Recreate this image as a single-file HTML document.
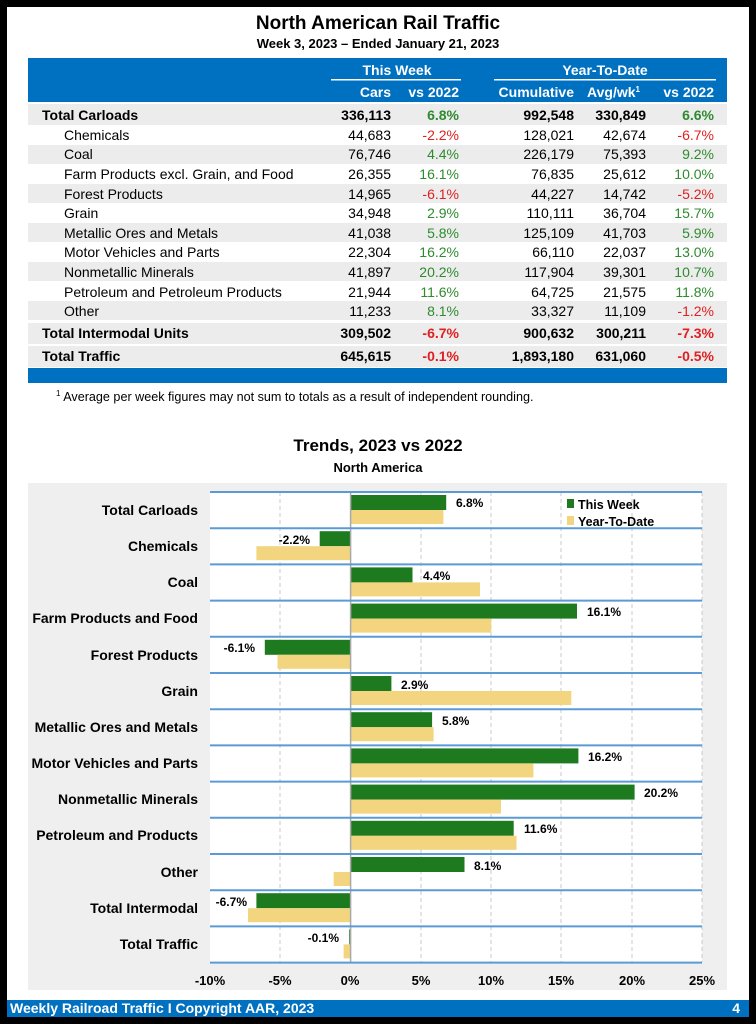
<!DOCTYPE html>
<html><head><meta charset="utf-8"><style>
html,body{margin:0;padding:0;background:#000;}
svg{display:block;font-family:"Liberation Sans",Arial,sans-serif;}
</style></head><body>
<svg width="756" height="1024" viewBox="0 0 756 1024" xmlns="http://www.w3.org/2000/svg">
<rect x="0" y="0" width="756" height="1024" fill="#000"/>
<rect x="7" y="7" width="742" height="1010" fill="#fff"/>
<text x="378" y="29" text-anchor="middle" font-size="19" font-weight="bold">North American Rail Traffic</text>
<text x="378" y="48" text-anchor="middle" font-size="13" font-weight="bold">Week 3, 2023 – Ended January 21, 2023</text>
<rect x="28" y="58" width="699" height="44" fill="#0070c0"/>
<g fill="#fff" font-weight="bold" font-size="14">
<text x="397" y="75" text-anchor="middle">This Week</text>
<text x="605" y="75" text-anchor="middle">Year-To-Date</text>
<text x="391" y="97" text-anchor="end">Cars</text>
<text x="459" y="97" text-anchor="end">vs 2022</text>
<text x="574" y="97" text-anchor="end">Cumulative</text>
<text x="640" y="97" text-anchor="end">Avg/wk<tspan font-size="8" dy="-5">1</tspan></text>
<text x="714" y="97" text-anchor="end">vs 2022</text>
</g>
<rect x="331" y="79" width="130" height="1.5" fill="#fff"/>
<rect x="494" y="79" width="222" height="1.5" fill="#fff"/>
<g font-size="14">
<rect x="28" y="104" width="699" height="21" fill="#ececec"/>
<rect x="28" y="145" width="699" height="19" fill="#ececec"/>
<rect x="28" y="184" width="699" height="19" fill="#ececec"/>
<rect x="28" y="223" width="699" height="19" fill="#ececec"/>
<rect x="28" y="262" width="699" height="19" fill="#ececec"/>
<rect x="28" y="301" width="699" height="19" fill="#ececec"/>
<rect x="28" y="323" width="699" height="21" fill="#ececec"/>
<rect x="28" y="346" width="699" height="21" fill="#ececec"/>
<g font-weight="bold">
<text x="42" y="120">Total Carloads</text><text x="391" y="120" text-anchor="end">336,113</text><text x="459" y="120" text-anchor="end" fill="#2e8b2e">6.8%</text><text x="574" y="120" text-anchor="end">992,548</text><text x="646" y="120" text-anchor="end">330,849</text><text x="714" y="120" text-anchor="end" fill="#2e8b2e">6.6%</text>
<text x="42" y="338">Total Intermodal Units</text><text x="391" y="338" text-anchor="end">309,502</text><text x="459" y="338" text-anchor="end" fill="#e02020">-6.7%</text><text x="574" y="338" text-anchor="end">900,632</text><text x="646" y="338" text-anchor="end">300,211</text><text x="714" y="338" text-anchor="end" fill="#e02020">-7.3%</text>
<text x="42" y="361">Total Traffic</text><text x="391" y="361" text-anchor="end">645,615</text><text x="459" y="361" text-anchor="end" fill="#e02020">-0.1%</text><text x="574" y="361" text-anchor="end">1,893,180</text><text x="646" y="361" text-anchor="end">631,060</text><text x="714" y="361" text-anchor="end" fill="#e02020">-0.5%</text>
</g>
<g>
<text x="64" y="140">Chemicals</text><text x="391" y="140" text-anchor="end">44,683</text><text x="459" y="140" text-anchor="end" fill="#e02020">-2.2%</text><text x="574" y="140" text-anchor="end">128,021</text><text x="646" y="140" text-anchor="end">42,674</text><text x="714" y="140" text-anchor="end" fill="#e02020">-6.7%</text>
<text x="64" y="159">Coal</text><text x="391" y="159" text-anchor="end">76,746</text><text x="459" y="159" text-anchor="end" fill="#2e8b2e">4.4%</text><text x="574" y="159" text-anchor="end">226,179</text><text x="646" y="159" text-anchor="end">75,393</text><text x="714" y="159" text-anchor="end" fill="#2e8b2e">9.2%</text>
<text x="64" y="179">Farm Products excl. Grain, and Food</text><text x="391" y="179" text-anchor="end">26,355</text><text x="459" y="179" text-anchor="end" fill="#2e8b2e">16.1%</text><text x="574" y="179" text-anchor="end">76,835</text><text x="646" y="179" text-anchor="end">25,612</text><text x="714" y="179" text-anchor="end" fill="#2e8b2e">10.0%</text>
<text x="64" y="199">Forest Products</text><text x="391" y="199" text-anchor="end">14,965</text><text x="459" y="199" text-anchor="end" fill="#e02020">-6.1%</text><text x="574" y="199" text-anchor="end">44,227</text><text x="646" y="199" text-anchor="end">14,742</text><text x="714" y="199" text-anchor="end" fill="#e02020">-5.2%</text>
<text x="64" y="218">Grain</text><text x="391" y="218" text-anchor="end">34,948</text><text x="459" y="218" text-anchor="end" fill="#2e8b2e">2.9%</text><text x="574" y="218" text-anchor="end">110,111</text><text x="646" y="218" text-anchor="end">36,704</text><text x="714" y="218" text-anchor="end" fill="#2e8b2e">15.7%</text>
<text x="64" y="238">Metallic Ores and Metals</text><text x="391" y="238" text-anchor="end">41,038</text><text x="459" y="238" text-anchor="end" fill="#2e8b2e">5.8%</text><text x="574" y="238" text-anchor="end">125,109</text><text x="646" y="238" text-anchor="end">41,703</text><text x="714" y="238" text-anchor="end" fill="#2e8b2e">5.9%</text>
<text x="64" y="257">Motor Vehicles and Parts</text><text x="391" y="257" text-anchor="end">22,304</text><text x="459" y="257" text-anchor="end" fill="#2e8b2e">16.2%</text><text x="574" y="257" text-anchor="end">66,110</text><text x="646" y="257" text-anchor="end">22,037</text><text x="714" y="257" text-anchor="end" fill="#2e8b2e">13.0%</text>
<text x="64" y="277">Nonmetallic Minerals</text><text x="391" y="277" text-anchor="end">41,897</text><text x="459" y="277" text-anchor="end" fill="#2e8b2e">20.2%</text><text x="574" y="277" text-anchor="end">117,904</text><text x="646" y="277" text-anchor="end">39,301</text><text x="714" y="277" text-anchor="end" fill="#2e8b2e">10.7%</text>
<text x="64" y="297">Petroleum and Petroleum Products</text><text x="391" y="297" text-anchor="end">21,944</text><text x="459" y="297" text-anchor="end" fill="#2e8b2e">11.6%</text><text x="574" y="297" text-anchor="end">64,725</text><text x="646" y="297" text-anchor="end">21,575</text><text x="714" y="297" text-anchor="end" fill="#2e8b2e">11.8%</text>
<text x="64" y="316">Other</text><text x="391" y="316" text-anchor="end">11,233</text><text x="459" y="316" text-anchor="end" fill="#2e8b2e">8.1%</text><text x="574" y="316" text-anchor="end">33,327</text><text x="646" y="316" text-anchor="end">11,109</text><text x="714" y="316" text-anchor="end" fill="#e02020">-1.2%</text>
</g>
</g>
<rect x="28" y="368" width="699" height="15" fill="#0070c0"/>
<text x="56" y="401" font-size="12.6"><tspan font-size="8" dy="-5">1</tspan><tspan dy="5"> Average per week figures may not sum to totals as a result of independent rounding.</tspan></text>

<text x="378" y="451" text-anchor="middle" font-size="17" font-weight="bold">Trends, 2023 vs 2022</text>
<text x="378" y="472" text-anchor="middle" font-size="13" font-weight="bold">North America</text>
<rect x="28" y="483" width="699" height="507" fill="#efefef"/>
<rect x="210" y="492" width="492" height="470" fill="#fff"/>
<g stroke="#c8c8c8" stroke-dasharray="4,3" stroke-width="1">
<line x1="280" y1="492" x2="280" y2="962"/><line x1="421" y1="492" x2="421" y2="962"/><line x1="491" y1="492" x2="491" y2="962"/><line x1="561" y1="492" x2="561" y2="962"/><line x1="632" y1="492" x2="632" y2="962"/><line x1="702" y1="492" x2="702" y2="962"/>
</g>
<g>
<rect x="350.6" y="495" width="95.6" height="15" fill="#1e7a1e"/><rect x="350.6" y="510" width="92.8" height="14" fill="#f2d57e"/>
<rect x="319.7" y="531.2" width="30.9" height="15" fill="#1e7a1e"/><rect x="256.4" y="546.2" width="94.2" height="14" fill="#f2d57e"/>
<rect x="350.6" y="567.4" width="61.9" height="15" fill="#1e7a1e"/><rect x="350.6" y="582.4" width="129.4" height="14" fill="#f2d57e"/>
<rect x="350.6" y="603.6" width="226.4" height="15" fill="#1e7a1e"/><rect x="350.6" y="618.6" width="140.6" height="14" fill="#f2d57e"/>
<rect x="264.8" y="639.8" width="85.8" height="15" fill="#1e7a1e"/><rect x="277.5" y="654.8" width="73.1" height="14" fill="#f2d57e"/>
<rect x="350.6" y="676" width="40.8" height="15" fill="#1e7a1e"/><rect x="350.6" y="691" width="220.7" height="14" fill="#f2d57e"/>
<rect x="350.6" y="712.2" width="81.5" height="15" fill="#1e7a1e"/><rect x="350.6" y="727.2" width="83" height="14" fill="#f2d57e"/>
<rect x="350.6" y="748.4" width="227.8" height="15" fill="#1e7a1e"/><rect x="350.6" y="763.4" width="182.8" height="14" fill="#f2d57e"/>
<rect x="350.6" y="784.6" width="284" height="15" fill="#1e7a1e"/><rect x="350.6" y="799.6" width="150.4" height="14" fill="#f2d57e"/>
<rect x="350.6" y="820.8" width="163.1" height="15" fill="#1e7a1e"/><rect x="350.6" y="835.8" width="165.9" height="14" fill="#f2d57e"/>
<rect x="350.6" y="857" width="113.9" height="15" fill="#1e7a1e"/><rect x="333.7" y="872" width="16.9" height="14" fill="#f2d57e"/>
<rect x="256.4" y="893.2" width="94.2" height="15" fill="#1e7a1e"/><rect x="248" y="908.2" width="102.6" height="14" fill="#f2d57e"/>
<rect x="349.2" y="929.4" width="1.4" height="15" fill="#1e7a1e"/><rect x="343.6" y="944.4" width="7" height="14" fill="#f2d57e"/>
</g>
<line x1="350.6" y1="492" x2="350.6" y2="962" stroke="#aaa" stroke-width="1.5"/>
<g stroke="#5b9bd5" stroke-width="2">
<line x1="210" y1="492" x2="702" y2="492"/><line x1="210" y1="528.2" x2="702" y2="528.2"/><line x1="210" y1="564.4" x2="702" y2="564.4"/><line x1="210" y1="600.6" x2="702" y2="600.6"/><line x1="210" y1="636.8" x2="702" y2="636.8"/><line x1="210" y1="673" x2="702" y2="673"/><line x1="210" y1="709.2" x2="702" y2="709.2"/><line x1="210" y1="745.4" x2="702" y2="745.4"/><line x1="210" y1="781.6" x2="702" y2="781.6"/><line x1="210" y1="817.8" x2="702" y2="817.8"/><line x1="210" y1="854" x2="702" y2="854"/><line x1="210" y1="890.2" x2="702" y2="890.2"/><line x1="210" y1="926.4" x2="702" y2="926.4"/><line x1="210" y1="962.6" x2="702" y2="962.6"/>
</g>
<g font-size="14" font-weight="bold" text-anchor="end">
<text x="198" y="515">Total Carloads</text><text x="198" y="551">Chemicals</text><text x="198" y="587">Coal</text><text x="198" y="623">Farm Products and Food</text><text x="198" y="660">Forest Products</text><text x="198" y="696">Grain</text><text x="198" y="732">Metallic Ores and Metals</text><text x="198" y="768">Motor Vehicles and Parts</text><text x="198" y="804">Nonmetallic Minerals</text><text x="198" y="840">Petroleum and Products</text><text x="198" y="877">Other</text><text x="198" y="913">Total Intermodal</text><text x="198" y="949">Total Traffic</text>
</g>
<g font-size="12" font-weight="bold">
<text x="456" y="507">6.8%</text>
<text x="310" y="544" text-anchor="end">-2.2%</text>
<text x="423" y="580">4.4%</text>
<text x="587" y="616">16.1%</text>
<text x="255" y="652" text-anchor="end">-6.1%</text>
<text x="401" y="689">2.9%</text>
<text x="442" y="725">5.8%</text>
<text x="588" y="761">16.2%</text>
<text x="644" y="797">20.2%</text>
<text x="524" y="833">11.6%</text>
<text x="474" y="870">8.1%</text>
<text x="247" y="906" text-anchor="end">-6.7%</text>
<text x="339" y="942" text-anchor="end">-0.1%</text>
</g>
<g font-size="13" font-weight="bold" text-anchor="middle">
<text x="210" y="985">-10%</text><text x="280" y="985">-5%</text><text x="350" y="985">0%</text><text x="421" y="985">5%</text><text x="491" y="985">10%</text><text x="561" y="985">15%</text><text x="632" y="985">20%</text><text x="702" y="985">25%</text>
</g>
<rect x="567" y="499" width="7" height="9" fill="#1e7a1e"/>
<text x="578" y="509" font-size="12.5" font-weight="bold">This Week</text>
<rect x="567" y="516" width="7" height="9" fill="#f2d57e"/>
<text x="578" y="526" font-size="12.5" font-weight="bold">Year-To-Date</text>

<rect x="7" y="1000" width="742" height="17" fill="#0070c0"/>
<text x="10" y="1013" font-size="14" font-weight="bold" fill="#fff">Weekly Railroad Traffic I Copyright AAR, 2023</text>
<text x="740" y="1013" font-size="14" font-weight="bold" fill="#fff" text-anchor="end">4</text>
</svg>
</body></html>
